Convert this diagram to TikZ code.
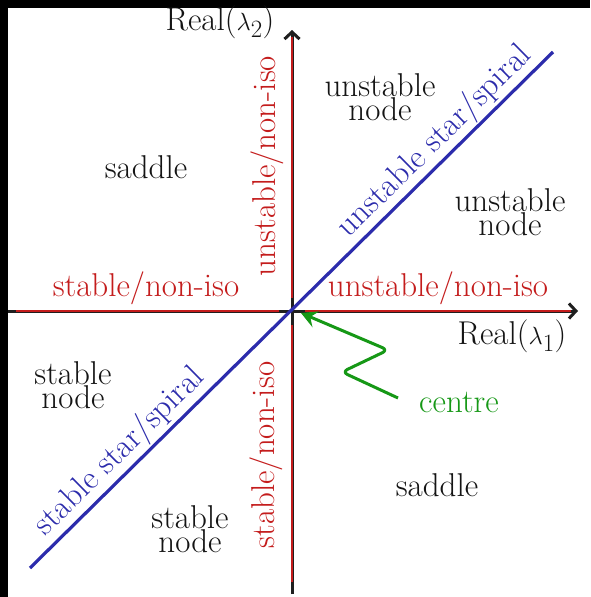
\documentclass[tikz,border=0pt]{standalone}
\usepackage{tikz}
\usetikzlibrary{arrows.meta,positioning,calc}
\definecolor{isored}{RGB}{196,28,28}
\definecolor{starblue}{RGB}{44,44,172}
\definecolor{centregreen}{RGB}{22,152,22}
\tikzset{
 ph axis/.style={-{Straight Barb[length=7pt,width=15pt]},line width=3pt,draw=black!88},
 ph iso/.style={line width=2.8pt,draw=isored},
 ph star/.style={line width=3.2pt,draw=starblue},
 ph region/.style={font=\fontsize{33}{22}\selectfont,align=center,text=black!92,inner sep=0pt},
 ph isotext/.style={font=\fontsize{33}{33}\selectfont,text=isored,inner sep=0pt},
 ph startext/.style={font=\fontsize{33}{33}\selectfont,text=starblue,inner sep=0pt,rotate=44.6},
 ph pointer/.style={-{Stealth[length=16pt,width=17pt,inset=6pt]},line width=3pt,
   draw=centregreen,rounded corners=6pt,line join=round},
}

\begin{document}
\begin{tikzpicture}[x=1pt,y=-1pt]
\useasboundingbox (0,0) rectangle (590,597);
\fill[black] (0,0) rectangle (590,597);
\fill[white] (8,8) rectangle (590,597);
% axes
\coordinate (origin) at (292,311);
\coordinate (xstart) at (8,311);
\coordinate (xend) at (578,311);
\coordinate (ystart) at (292,594);
\coordinate (yend) at (292,30);
\draw[ph axis] (xstart)--(xend);
\draw[ph axis] (ystart)--(yend);
\draw[ph iso] (16,311)--(279,311) (305,311)--(571,311);
\draw[ph iso] (292,37)--(292,298) (292,325)--(292,582);
\draw[ph star] (30,568)--(553,52);
\node[ph region] (ylabel) at (220,22) {Real($\lambda_2$)};
\node[ph region] (xlabel) at (512,336) {Real($\lambda_1$)};
% regions
\node[ph region] (saddleA) at (146,167) {saddle};
\node[ph region] (unodeA) at (380,97) {unstable\\node};
\node[ph region] (unodeB) at (510,212) {unstable\\node};
\node[ph region] (snodeA) at (73,385) {stable\\node};
\node[ph region] (snodeB) at (190,529) {stable\\node};
\node[ph region] (saddleB) at (437,485) {saddle};
% borders
\node[ph isotext] (isoW) at (146,288) {stable/non-iso};
\node[ph isotext] (isoE) at (438,288) {unstable/non-iso};
\node[ph isotext,rotate=90] (isoN) at (267,166) {unstable/non-iso};
\node[ph isotext,rotate=90] (isoS) at (266,455) {stable/non-iso};
\node[ph startext] (starNE) at (435,142) {unstable star/spiral};
\node[ph startext] (starSW) at (120,452) {stable star/spiral};
% centre
\node[ph region,text=centregreen] (centre) at (459,402) {centre};
\coordinate (tail) at (398,398);
\draw[ph pointer] (tail)--(342,372)--(388,350)--($(origin)+(9,2)$);
\end{tikzpicture}
\end{document}
